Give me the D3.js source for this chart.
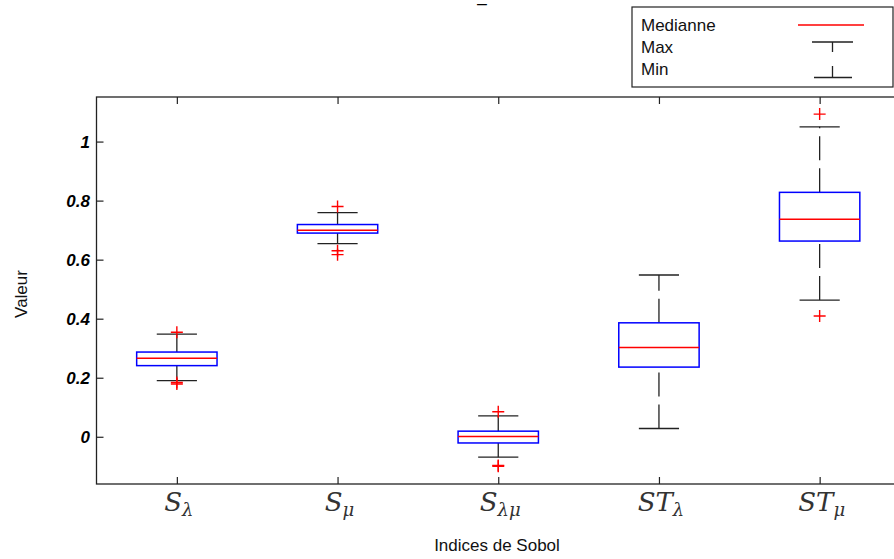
<!DOCTYPE html>
<html>
<head>
<meta charset="utf-8">
<script src="https://d3js.org/d3.v7.min.js"></script>
<style>
body { margin: 0; background: #fff; }
text { font-family: "Liberation Sans", Arial, sans-serif; }
.tick-label { font-size: 17px; font-weight: bold; font-style: italic; }
.cat { font-family: "DejaVu Serif", "Liberation Serif", serif; font-style: italic; }
</style>
</head>
<body>
<script>
// boxplot values
var labelBase = ["S", "S", "S", "ST", "ST"];
var labelSub = ["\u03bb", "\u03bc", "\u03bb\u03bc", "\u03bb", "\u03bc"];
var whiskerLow = [0.190, 0.654, -0.069, 0.028, 0.463];
var q1 = [0.241, 0.690, -0.021, 0.236, 0.663];
var median = [0.266, 0.700, 0.001, 0.302, 0.737];
var q3 = [0.287, 0.719, 0.019, 0.386, 0.828];
var whiskerHigh = [0.348, 0.759, 0.071, 0.548, 1.050];
var outliers = [[0.354, 0.184, 0.179], [0.780, 0.630, 0.617], [0.085, -0.097, -0.100], [], [1.093, 0.409]];
var yTicks = [0, 0.2, 0.4, 0.6, 0.8, 1];
var legendItems = ["Medianne", "Max", "Min"];

var W = 894, H = 559;
var svg = d3.select("body").append("svg").attr("width", W).attr("height", H);

var x = d3.scaleLinear().domain([0.5, 5.5]).range([96.5, 900]);
var y = d3.scaleLinear().domain([-0.16, 1.151]).range([484, 97]);
var ink = "#222";

// little title mark
svg.append("text").attr("x", 482).attr("y", 1.5).attr("text-anchor", "middle")
  .style("font-size", "17px").text("_");

// axes frame
svg.append("rect").attr("x", x(0.5)).attr("y", y(1.151))
  .attr("width", x(5.5) - x(0.5)).attr("height", y(-0.16) - y(1.151))
  .attr("fill", "none").attr("stroke", ink).attr("stroke-width", 1.3);

// y axis (ticks inward)
var yAxis = svg.append("g").attr("transform", "translate(" + x(0.5) + ",0)")
  .call(d3.axisRight(y).tickValues(yTicks).tickSize(7).tickFormat(""));
yAxis.select(".domain").remove();
yAxis.selectAll("line").attr("stroke", ink).attr("stroke-width", 1.2);
svg.selectAll(".ylab").data(yTicks).enter().append("text")
  .attr("class", "tick-label").attr("x", 90).attr("y", function(d) { return y(d) + 6; })
  .attr("text-anchor", "end").attr("fill", "#000")
  .text(function(d) { return d3.format("")(d); });

// x axis ticks at bottom and top
var idx = d3.range(1, 6);
var xb = svg.append("g").attr("transform", "translate(0," + y(-0.16) + ")")
  .call(d3.axisTop(x).tickValues(idx).tickSize(7).tickFormat(""));
xb.select(".domain").remove();
xb.selectAll("line").attr("stroke", ink).attr("stroke-width", 1.2);
var xt = svg.append("g").attr("transform", "translate(0," + y(1.151) + ")")
  .call(d3.axisBottom(x).tickValues(idx).tickSize(7).tickFormat(""));
xt.select(".domain").remove();
xt.selectAll("line").attr("stroke", ink).attr("stroke-width", 1.2);

// category labels
idx.forEach(function(d, i) {
  var t = svg.append("text").attr("class", "cat").attr("x", x(d) + 2).attr("y", 511)
    .attr("text-anchor", "middle").attr("fill", "#333");
  t.append("tspan").style("font-size", "26px").text(labelBase[i]);
  t.append("tspan").style("font-size", "18px").attr("dy", 5).text(labelSub[i]);
});

// axis titles
svg.append("text").attr("x", 497).attr("y", 551).attr("text-anchor", "middle")
  .style("font-size", "17px").attr("fill", "#111").text("Indices de Sobol");
svg.append("text").attr("transform", "translate(27,294) rotate(-90)")
  .attr("text-anchor", "middle").style("font-size", "17px").attr("fill", "#111").text("Valeur");

// boxes
var boxHalf = 0.25, capHalf = 0.125;
var g = svg.selectAll(".box").data(idx).enter().append("g");

g.append("line").attr("x1", function(d) { return x(d); }).attr("x2", function(d) { return x(d); })
  .attr("y1", function(d, i) { return y(q3[i]); }).attr("y2", function(d, i) { return y(whiskerHigh[i]); })
  .attr("stroke", ink).attr("stroke-width", 1.3).attr("stroke-dasharray", "24,8");
g.append("line").attr("x1", function(d) { return x(d); }).attr("x2", function(d) { return x(d); })
  .attr("y1", function(d, i) { return y(whiskerLow[i]); }).attr("y2", function(d, i) { return y(q1[i]); })
  .attr("stroke", ink).attr("stroke-width", 1.3).attr("stroke-dasharray", "24,8");
g.append("line").attr("x1", function(d) { return x(d - capHalf); }).attr("x2", function(d) { return x(d + capHalf); })
  .attr("y1", function(d, i) { return y(whiskerHigh[i]); }).attr("y2", function(d, i) { return y(whiskerHigh[i]); })
  .attr("stroke", ink).attr("stroke-width", 1.3);
g.append("line").attr("x1", function(d) { return x(d - capHalf); }).attr("x2", function(d) { return x(d + capHalf); })
  .attr("y1", function(d, i) { return y(whiskerLow[i]); }).attr("y2", function(d, i) { return y(whiskerLow[i]); })
  .attr("stroke", ink).attr("stroke-width", 1.3);
g.append("rect").attr("x", function(d) { return x(d - boxHalf); })
  .attr("y", function(d, i) { return y(q3[i]); })
  .attr("width", x(1 + boxHalf) - x(1 - boxHalf))
  .attr("height", function(d, i) { return y(q1[i]) - y(q3[i]); })
  .attr("fill", "none").attr("stroke", "#0000ff").attr("stroke-width", 1.5);
g.append("line").attr("x1", function(d) { return x(d - boxHalf); }).attr("x2", function(d) { return x(d + boxHalf); })
  .attr("y1", function(d, i) { return y(median[i]); }).attr("y2", function(d, i) { return y(median[i]); })
  .attr("stroke", "#ff0000").attr("stroke-width", 1.5);

// outliers as red plus signs
idx.forEach(function(d, i) {
  outliers[i].forEach(function(v) {
    svg.append("path")
      .attr("d", "M" + (x(d) - 6) + "," + y(v) + "h12M" + x(d) + "," + (y(v) - 6) + "v12")
      .attr("stroke", "#ff0000").attr("stroke-width", 1.4).attr("fill", "none");
  });
});

// legend
var lg = svg.append("g");
lg.append("rect").attr("x", 632).attr("y", 7).attr("width", 261).attr("height", 80)
  .attr("fill", "#fff").attr("stroke", ink).attr("stroke-width", 1.2);
lg.selectAll("text").data(legendItems).enter().append("text")
  .attr("x", 641).attr("y", function(d, i) { return 31 + i * 22; })
  .style("font-size", "17px").attr("fill", "#111").text(function(d) { return d; });
lg.append("line").attr("x1", 798).attr("x2", 864).attr("y1", 25).attr("y2", 25)
  .attr("stroke", "#ff0000").attr("stroke-width", 1.3);
lg.append("path").attr("d", "M812,42H853M832.5,42V52").attr("stroke", ink).attr("stroke-width", 1.3).attr("fill", "none");
lg.append("path").attr("d", "M814,77.5H852M832.5,77.5V66").attr("stroke", ink).attr("stroke-width", 1.3).attr("fill", "none");
</script>
</body>
</html>
